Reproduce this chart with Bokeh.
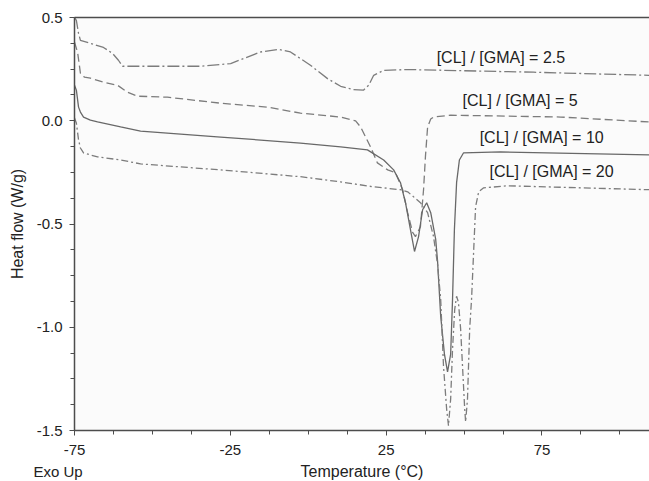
from bokeh.plotting import figure
from bokeh.models import FixedTicker, LinearAxis, Label, Range1d, PrintfTickFormatter, Title
from bokeh.embed import file_html
from bokeh.resources import INLINE

# ---- data ----
T_25 = [-75, -74.4, -73.7, -73.1, -69.9, -65.7, -62.8, -60.9, -59.6, -53.8,
        -34.6, -24.9, -20.8, -15.3, -9.5, -5.7, 0.7, 6.2, 10.4, 14.5,
        17.7, 19.4, 21.0, 24.2, 31.9, 72.3, 109.5]
HF_25 = [0.50, 0.486, 0.423, 0.389, 0.375, 0.355, 0.326, 0.293, 0.264, 0.264,
         0.264, 0.277, 0.301, 0.333, 0.346, 0.333, 0.269, 0.204, 0.167, 0.151,
         0.148, 0.172, 0.220, 0.244, 0.248, 0.235, 0.220]

T_5 = [-75, -74.0, -73.1, -71.8, -69.9, -65.7, -61.2, -58.0, -54.8, -45.2,
       -28.1, -13.1, -2.5, 10.4, 15.2, 16.8, 20.0, 22.2, 25.5, 28.0,
       30.3, 31.9, 33.5, 34.4, 36.0, 37.0, 37.6, 38.3, 39.3, 40.2,
       45.7, 81.0, 109.5]
HF_5 = [0.38, 0.331, 0.230, 0.211, 0.206, 0.187, 0.172, 0.138, 0.119, 0.114,
        0.085, 0.066, 0.037, 0.018, -0.001, -0.030, -0.127, -0.204, -0.238, -0.252,
        -0.334, -0.445, -0.541, -0.561, -0.513, -0.334, -0.175, -0.030, 0.008, 0.018,
        0.027, 0.018, -0.006]

T_10 = [-75, -74.4, -73.7, -73.1, -72.1, -69.9, -67.6, -60.2, -53.8, -28.1,
        -2.5, 10.4, 19.0, 24.2, 27.4, 29.6, 31.2, 32.8, 34.1, 35.4,
        36.7, 38.0, 39.3, 40.9, 41.5, 42.5, 43.7, 44.7, 45.7, 46.3,
        46.9, 47.6, 48.5, 49.8, 61.7, 109.5]
HF_10 = [0.172, 0.148, 0.066, 0.042, 0.018, 0.003, -0.006, -0.030, -0.050, -0.079,
         -0.108, -0.127, -0.141, -0.190, -0.238, -0.300, -0.397, -0.527, -0.633, -0.561,
         -0.431, -0.397, -0.445, -0.575, -0.681, -0.946, -1.130, -1.216, -1.130, -0.865,
         -0.527, -0.300, -0.190, -0.156, -0.151, -0.165]

T_20 = [-75, -74.4, -73.7, -73.1, -72.1, -67.6, -60.2, -53.8, -28.1, -2.5,
        10.4, 21.0, 29.6, 31.9, 36.0, 38.3, 40.2, 41.5, 42.5, 43.4,
        44.4, 45.0, 45.7, 46.3, 47.0, 47.6, 48.2, 48.9, 49.5, 50.2,
        50.5, 51.1, 51.8, 52.4, 53.1, 53.7, 54.7, 56.3, 64.0, 109.5]
HF_20 = [0.013, -0.011, -0.093, -0.132, -0.156, -0.175, -0.190, -0.209, -0.238, -0.271,
         -0.296, -0.320, -0.334, -0.344, -0.397, -0.445, -0.561, -0.696, -0.865, -1.188,
         -1.395, -1.477, -1.347, -1.106, -0.913, -0.850, -0.879, -1.009, -1.188, -1.395,
         -1.458, -1.347, -1.009, -0.865, -0.623, -0.416, -0.344, -0.325, -0.315, -0.334]

series_names = ["[CL] / [GMA] = 2.5", "[CL] / [GMA] = 5",
                "[CL] / [GMA] = 10", "[CL] / [GMA] = 20"]
label_x = [41.2, 49.5, 55.0, 58.2]
label_y = [0.307, 0.100, -0.079, -0.247]

x_ticks = [-75, -25, 25, 75]
x_minor = [-75 + 12.5 * k for k in range(15)]
y_ticks = [-1.5, -1.0, -0.5, 0.0, 0.5]
y_minor = [-1.5 + 0.125 * k for k in range(17)]

x_title = "Temperature (°C)"
y_title = "Heat flow (W/g)"
corner_note = "Exo Up"

FONT = "Liberation Sans"
TXT = "#222222"
AX = "#4d4d4d"

p = figure(width=649, height=481, x_range=Range1d(-75, 109.5), y_range=Range1d(-1.5, 0.5),
           output_backend="svg", toolbar_location=None,
           min_border_left=74, min_border_right=0, min_border_top=17, min_border_bottom=51,
           background_fill_color="#fbfbfb", border_fill_color="white",
           outline_line_color=None)
p.xgrid.visible = False
p.ygrid.visible = False

styles = [("#7c7c7c", "12 3 2 3"), ("#7c7c7c", "8 4"), ("#686868", "solid"), ("#7c7c7c", "7 3 2 3")]
data = [(T_25, HF_25), (T_5, HF_5), (T_10, HF_10), (T_20, HF_20)]
for (xs, ys), (c, d) in zip(data, styles):
    p.line(xs, ys, line_color=c, line_width=1.3, line_dash=d)

for name, lx, ly in zip(series_names, label_x, label_y):
    p.add_layout(Label(x=lx, y=ly, text=name, text_font=FONT, text_font_size="16px",
                       text_color=TXT, text_baseline="middle", text_align="left"))

for ax in (p.xaxis[0], p.yaxis[0]):
    ax.axis_line_color = AX
    ax.axis_line_width = 1.5
    ax.major_tick_line_color = AX
    ax.minor_tick_line_color = AX
    ax.major_tick_in = 0
    ax.major_tick_out = 5
    ax.minor_tick_in = 0
    ax.minor_tick_out = 4
    ax.major_label_text_font = FONT
    ax.major_label_text_font_size = "15px"
    ax.major_label_text_color = TXT
    ax.axis_label_text_font = FONT
    ax.axis_label_text_font_size = "16px"
    ax.axis_label_text_font_style = "normal"
    ax.axis_label_text_color = TXT

p.xaxis[0].ticker = FixedTicker(ticks=x_ticks, minor_ticks=x_minor)
p.yaxis[0].ticker = FixedTicker(ticks=y_ticks, minor_ticks=y_minor)
p.xaxis[0].formatter = PrintfTickFormatter(format="%d")
p.yaxis[0].formatter = PrintfTickFormatter(format="%.1f")
p.yaxis[0].axis_label = y_title
p.xaxis[0].major_label_standoff = 9
p.yaxis[0].major_label_standoff = 7
p.yaxis[0].axis_label_standoff = 8

# frame top border line
top = LinearAxis(ticker=FixedTicker(ticks=[]), axis_line_color=AX, axis_line_width=1.5,
                 major_tick_line_color=None, minor_tick_line_color=None,
                 major_tick_out=0, minor_tick_out=0, major_label_standoff=0)
p.add_layout(top, "above")

# invisible spacer row below the tick labels (white tick on white border)
spacer = LinearAxis(ticker=FixedTicker(ticks=[100]), axis_line_color=None,
                    major_tick_line_color="white", minor_tick_line_color=None,
                    major_tick_in=0, minor_tick_in=0,
                    major_tick_out=14, minor_tick_out=0, major_label_standoff=0,
                    major_label_overrides={100: ""}, major_label_text_font_size="1px")
p.add_layout(spacer, "below")

# two zero-height title rows sharing one line: axis title and "Exo Up"
t_x = Title(text=x_title, align="center", standoff=-20, vertical_align="middle",
            text_font=FONT, text_font_size="16px", text_font_style="normal", text_color=TXT)
p.add_layout(t_x, "below")
exo = Title(text=corner_note, align="left", offset=-41, standoff=-19, vertical_align="middle",
            text_font=FONT, text_font_size="15px", text_font_style="normal", text_color=TXT)
p.add_layout(exo, "below")

open("out.html", "w").write(file_html(p, INLINE))
